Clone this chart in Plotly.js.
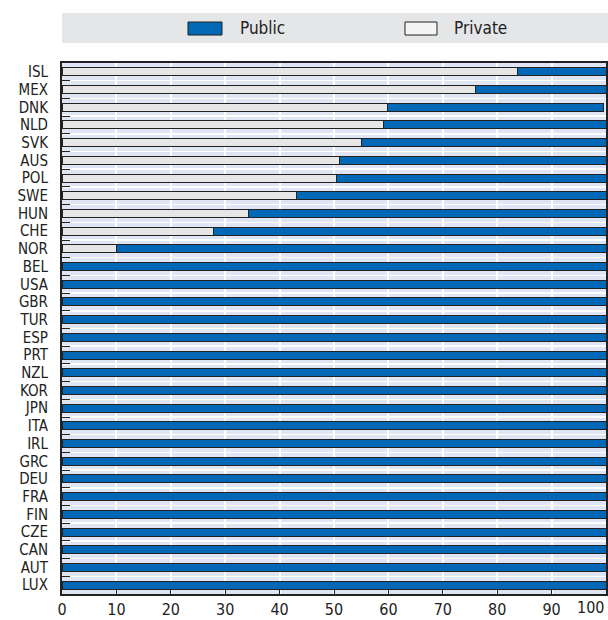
<!DOCTYPE html>
<html>
<head>
<meta charset="utf-8">
<script src="https://cdn.plot.ly/plotly-3.0.1.min.js"></script>
<style>html,body{margin:0;padding:0;background:#fff;}#chart{width:608px;height:620px;}</style>
</head>
<body>
<div id="chart"></div>
<script>
const countries = ['ISL','MEX','DNK','NLD','SVK','AUS','POL','SWE','HUN','CHE','NOR','BEL','USA','GBR','TUR','ESP','PRT','NZL','KOR','JPN','ITA','IRL','GRC','DEU','FRA','FIN','CZE','CAN','AUT','LUX'];
const privateShare = [83.7,76.0,59.9,59.1,55.0,51.0,50.5,43.1,34.3,27.9,10.1,0,0,0,0,0,0,0,0,0,0,0,0,0,0,0,0,0,0,0];
const publicShare  = [16.3,24.0,39.6,40.9,45.0,49.0,49.5,56.9,65.7,72.1,89.9,100,100,100,100,100,100,100,100,100,100,100,100,100,100,100,100,100,100,100];
const xTickValues = [0,10,20,30,40,50,60,70,80,90,100];
const xTickLabels = ['0','10','20','30','40','50','60','70','80','90','100'];
const seriesNames = ['Public','Private'];

const FONT = '"DejaVu Sans Condensed", "Liberation Sans", sans-serif';
const BLUE = '#0068b4';
const GREY = '#e6e6e6';
const EDGE = '#222222';

const traces = [
  {type:'bar', orientation:'h', name:seriesNames[1], y:countries, x:privateShare,
   marker:{color:GREY, line:{color:EDGE, width:1}}, showlegend:false, hoverinfo:'x+y'},
  {type:'bar', orientation:'h', name:seriesNames[0], y:countries, x:publicShare,
   marker:{color:BLUE, line:{color:EDGE, width:1}}, showlegend:false, hoverinfo:'x+y'}
];

const lastIdx = xTickLabels.length - 1;
const shownTicks = xTickLabels.map((t,i)=> i===lastIdx ? '' : t);

const layout = {
  width:608, height:620,
  margin:{l:62, r:2, t:63, b:26},
  paper_bgcolor:'#ffffff',
  plot_bgcolor:'#dfe5f3',
  barmode:'stack',
  bargap:0.55,
  font:{family:FONT, size:16, color:'#222'},
  xaxis:{
    range:[0,100], tickmode:'array', tickvals:xTickValues, ticktext:shownTicks,
    ticks:'inside', ticklen:5, tickcolor:EDGE, tickwidth:1,
    showgrid:true, gridcolor:'#ffffff', gridwidth:2,
    showline:true, linecolor:EDGE, linewidth:2, mirror:true,
    zeroline:false, tickfont:{family:FONT, size:16, color:'#222'},
    fixedrange:true
  },
  yaxis:{
    type:'category', categoryorder:'array', categoryarray:countries,
    autorange:'reversed', tickmode:'linear', tick0:0, dtick:1,
    tickson:'boundaries', ticks:'inside', ticklen:8, tickcolor:EDGE, tickwidth:1,
    showgrid:true, gridcolor:'#ffffff', gridwidth:1.5,
    showline:true, linecolor:EDGE, linewidth:2, mirror:true,
    zeroline:false, ticklabelstandoff:9,
    tickfont:{family:FONT, size:15, color:'#222'},
    fixedrange:true
  },
  shapes:[
    {type:'rect', xref:'paper', yref:'paper', x0:0, x1:1.004, y0:1.0377, y1:1.0942,
     fillcolor:'#e5e6e8', line:{width:0}, layer:'below'},
    {type:'rect', xref:'paper', yref:'paper', x0:0.2316, x1:0.2941, y0:1.0527, y1:1.0772,
     fillcolor:BLUE, line:{color:EDGE, width:1}},
    {type:'rect', xref:'paper', yref:'paper', x0:0.6305, x1:0.6893, y0:1.0527, y1:1.0772,
     fillcolor:'#f4f4f4', line:{color:EDGE, width:1}}
  ],
  annotations:[
    {xref:'paper', yref:'paper', x:0.3235, y:1.065, xanchor:'left', yanchor:'middle',
     text:seriesNames[0], showarrow:false, font:{family:FONT, size:17, color:'#222'}},
    {xref:'paper', yref:'paper', x:0.7169, y:1.065, xanchor:'left', yanchor:'middle',
     text:seriesNames[1], showarrow:false, font:{family:FONT, size:17, color:'#222'}},
    {xref:'x', yref:'paper', x:xTickValues[lastIdx], y:0, xanchor:'right', yanchor:'top', yshift:-2,
     text:xTickLabels[lastIdx], showarrow:false, font:{family:FONT, size:16, color:'#222'}}
  ]
};

Plotly.newPlot('chart', traces, layout, {displayModeBar:false, staticPlot:true});
</script>
</body>
</html>
